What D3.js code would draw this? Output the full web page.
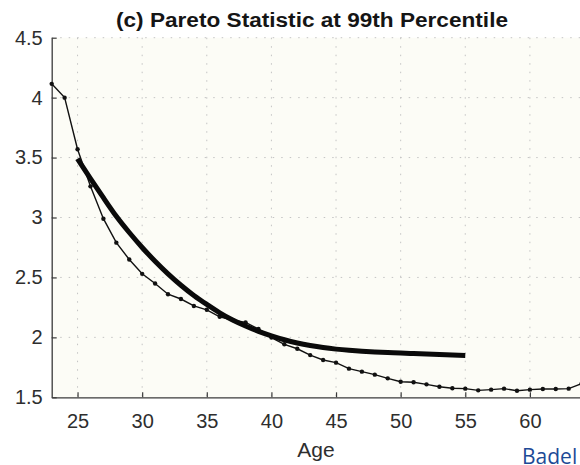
<!DOCTYPE html>
<html><head><meta charset="utf-8">
<script src="https://cdn.jsdelivr.net/npm/d3@7"></script>
<style>html,body{margin:0;padding:0;background:#fff;overflow:hidden}</style>
</head><body>
<svg id="c" width="580" height="465"></svg>
<script>
const dataAges = d3.range(23, 65);
const dataValues = [4.115, 4.00, 3.57, 3.26, 2.99, 2.79, 2.65, 2.53, 2.45, 2.36, 2.32, 2.262, 2.23, 2.172, 2.145, 2.125, 2.07, 1.998, 1.942, 1.905, 1.852, 1.811, 1.789, 1.739, 1.714, 1.689, 1.658, 1.630, 1.625, 1.608, 1.588, 1.575, 1.572, 1.558, 1.564, 1.572, 1.555, 1.564, 1.569, 1.569, 1.572, 1.613];
const fitAges = d3.range(25, 56);
const fitValues = [3.49, 3.325, 3.165, 3.01, 2.875, 2.75, 2.635, 2.53, 2.435, 2.35, 2.275, 2.205, 2.145, 2.095, 2.05, 2.013, 1.98, 1.953, 1.932, 1.915, 1.902, 1.892, 1.884, 1.878, 1.873, 1.869, 1.865, 1.861, 1.857, 1.853, 1.849];
const xTicks = [25, 30, 35, 40, 45, 50, 55, 60];
const yTicks = [1.5, 2, 2.5, 3, 3.5, 4, 4.5];
const titleText = "(c) Pareto Statistic at 99th Percentile";
const xLabel = "Age";
const cornerText = "Badel";

(function () {
const svg = d3.select("#c");
const pL = 51.7, pR = 581.6, pT = 37.7, pB = 397.3;
const x = d3.scaleLinear().domain([23, 64]).range([pL, pR]);
const y = d3.scaleLinear().domain([1.5, 4.5]).range([pB, pT]);

svg.append("rect").attr("x", pL).attr("y", pT).attr("width", pR - pL).attr("height", pB - pT).attr("fill", "#fcfcf6");

// grid
const g = svg.append("g");
g.selectAll("line.vg").data(xTicks).join("line")
  .attr("x1", d => x(d)).attr("x2", d => x(d)).attr("y1", pT).attr("y2", pB)
  .attr("stroke", "#c4c4c4").attr("stroke-width", 1).attr("stroke-dasharray", "1.5,7");
g.selectAll("line.hg").data(yTicks.filter(d => d > 1.5)).join("line")
  .attr("x1", pL).attr("x2", pR).attr("y1", d => y(d)).attr("y2", d => y(d))
  .attr("stroke", "#c4c4c4").attr("stroke-width", 1).attr("stroke-dasharray", "1.5,7");

// axes
const xa = svg.append("g").attr("transform", `translate(0,${pB})`)
  .call(d3.axisBottom(x).tickValues(xTicks).tickSizeInner(-5).tickSizeOuter(0).tickPadding(17));
const ya = svg.append("g").attr("transform", `translate(${pL},0)`)
  .call(d3.axisLeft(y).tickValues(yTicks).tickFormat(d3.format("")).tickSizeInner(-5).tickSizeOuter(0).tickPadding(9));
[xa, ya].forEach(a => {
  a.select(".domain").attr("stroke", "#3a3a3a").attr("stroke-width", 1.3);
  a.selectAll(".tick line").attr("stroke", "#3a3a3a").attr("stroke-width", 1.2);
  a.selectAll("text").attr("font-family", "Liberation Sans, Arial, sans-serif").attr("font-size", 20).attr("fill", "#2e2e2e");
});

// data series
const line = d3.line().x((d, i) => x(dataAges[i])).y(d => y(d));
svg.append("path").datum(dataValues).attr("d", line).attr("fill", "none").attr("stroke", "#111").attr("stroke-width", 1.4);
svg.selectAll("circle.pt").data(dataValues).join("circle")
  .attr("cx", (d, i) => x(dataAges[i])).attr("cy", d => y(d)).attr("r", 2.2).attr("fill", "#111");

const fitLine = d3.line().x((d, i) => x(fitAges[i])).y(d => y(d)).curve(d3.curveNatural);
svg.append("path").datum(fitValues).attr("d", fitLine).attr("fill", "none").attr("stroke", "#0a0a0a").attr("stroke-width", 5);

// texts
svg.append("text").attr("x", 312).attr("y", 27).attr("text-anchor", "middle")
  .attr("font-family", "Liberation Sans, Arial, sans-serif").attr("font-weight", "bold").attr("font-size", 20)
  .attr("textLength", 392).attr("lengthAdjust", "spacingAndGlyphs").attr("fill", "#151515").text(titleText);
svg.append("text").attr("x", 316).attr("y", 457).attr("text-anchor", "middle")
  .attr("font-family", "Liberation Sans, Arial, sans-serif").attr("font-size", 21).attr("fill", "#2e2e2e").text(xLabel);
svg.append("text").attr("x", 522).attr("y", 464).attr("font-family", "Open Sans, Noto Sans, sans-serif").attr("font-size", 21).attr("fill", "#1d4a96").text(cornerText);
})();
</script>
</body></html>
